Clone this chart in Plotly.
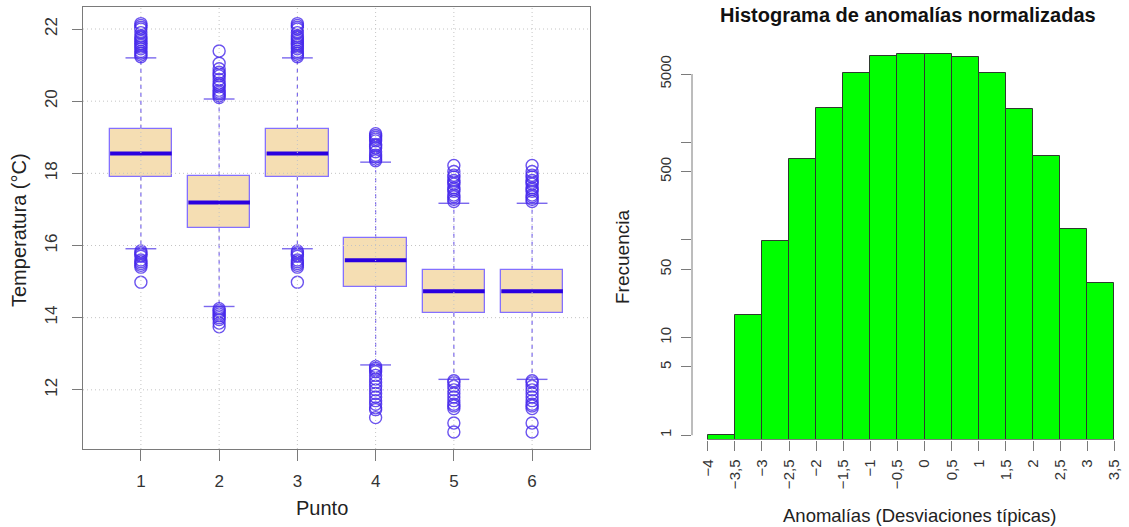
import plotly.graph_objects as go

# ---------------- Data: boxplot (left) ----------------
puntos = [1, 2, 3, 4, 5, 6]
q1 = [17.91, 16.49, 17.91, 14.86, 14.13, 14.13]
mediana = [18.55, 17.19, 18.55, 15.59, 14.73, 14.73]
q3 = [19.23, 17.94, 19.23, 16.20, 15.33, 15.33]
bigote_inf = [15.91, 14.31, 15.91, 12.69, 12.29, 12.29]
bigote_sup = [21.20, 20.06, 21.20, 18.31, 17.17, 17.17]
atipicos = [
    [21.23, 21.28, 21.33, 21.38, 21.45, 21.5, 21.55, 21.6, 21.65, 21.7, 21.75, 21.8, 21.9, 22.0, 22.05, 22.1, 22.15,
     15.85, 15.8, 15.75, 15.7, 15.6, 15.55, 15.5, 15.45, 15.4, 14.98],
    [20.1, 20.15, 20.2, 20.25, 20.3, 20.4, 20.45, 20.5, 20.6, 20.7, 20.75, 20.8, 20.9, 21.05, 21.39,
     14.25, 14.2, 14.15, 14.1, 14.05, 14.0, 13.95, 13.85, 13.75],
    [21.23, 21.28, 21.33, 21.38, 21.45, 21.5, 21.55, 21.6, 21.65, 21.7, 21.75, 21.8, 21.9, 22.0, 22.05, 22.1, 22.15,
     15.85, 15.8, 15.75, 15.7, 15.6, 15.55, 15.5, 15.45, 15.4, 14.98],
    [18.35, 18.4, 18.45, 18.5, 18.6, 18.7, 18.75, 18.8, 18.9, 18.95, 19.0, 19.05, 19.1,
     12.65, 12.6, 12.55, 12.5, 12.4, 12.3, 12.2, 12.1, 12.0, 11.9, 11.8, 11.7, 11.6, 11.5, 11.45, 11.23],
    [17.22, 17.28, 17.35, 17.4, 17.5, 17.55, 17.6, 17.7, 17.75, 17.8, 17.9, 17.95, 18.05, 18.22,
     12.25, 12.2, 12.1, 12.0, 11.9, 11.8, 11.7, 11.6, 11.55, 11.48, 11.08, 10.83],
    [17.22, 17.28, 17.35, 17.4, 17.5, 17.55, 17.6, 17.7, 17.75, 17.8, 17.9, 17.95, 18.05, 18.22,
     12.25, 12.2, 12.1, 12.0, 11.9, 11.8, 11.7, 11.6, 11.55, 11.48, 11.08, 10.83],
]
y_ticks_temp = [12, 14, 16, 18, 20, 22]

# ---------------- Data: histogram (right) ----------------
bordes = [-4, -3.5, -3, -2.5, -2, -1.5, -1, -0.5, 0, 0.5, 1, 1.5, 2, 2.5, 3, 3.5]
frecuencias = [1, 17, 97, 668, 2260, 5150, 7640, 8010, 8010, 7460, 5080, 2170, 727, 128, 36]
x_tick_vals = bordes
x_tick_text = ["\u22124", "\u22123,5", "\u22123", "\u22122,5", "\u22122", "\u22121,5", "\u22121", "\u22120,5",
               "0", "0,5", "1", "1,5", "2", "2,5", "3", "3,5"]
y_tick_vals = [1, 5, 10, 50, 100, 500, 1000, 5000]
y_tick_text = ["1", "5", "10", "50", "", "500", "", "5000"]

W, H = 1129, 527
FONT = "Liberation Sans, Arial, sans-serif"
AX = "#7a7a7a"

BOX_W = 0.8

fig = go.Figure()

# box bodies
fig.add_trace(go.Bar(
    x=puntos, base=q1, y=[b - a for a, b in zip(q1, q3)], width=BOX_W,
    marker=dict(color="#F5DEB3", line=dict(color="#8470FF", width=1.3)),
    xaxis="x", yaxis="y", showlegend=False, hoverinfo="skip"))

# whiskers (dashed)
wx, wy = [], []
for p, a, b, lo, hi in zip(puntos, q1, q3, bigote_inf, bigote_sup):
    wx += [p, p, None, p, p, None]
    wy += [b, hi, None, a, lo, None]
fig.add_trace(go.Scatter(x=wx, y=wy, mode="lines", line=dict(color="#7B68EE", width=1.2, dash="4px,4px"),
                         xaxis="x", yaxis="y", showlegend=False, hoverinfo="skip"))

# caps
fig.add_trace(go.Scatter(x=puntos + puntos, y=bigote_sup + bigote_inf, mode="markers",
                         marker=dict(symbol="line-ew", size=22, line=dict(color="#7B68EE", width=1.4)),
                         xaxis="x", yaxis="y", showlegend=False, hoverinfo="skip"))

# outliers
ox, oy = [], []
for p, vals in zip(puntos, atipicos):
    ox += [p] * len(vals)
    oy += vals
fig.add_trace(go.Scatter(x=ox, y=oy, mode="markers",
                         marker=dict(symbol="circle-open", size=12, color="rgba(70,40,235,0.8)",
                                     line=dict(width=1.4)),
                         xaxis="x", yaxis="y", showlegend=False, hoverinfo="skip", cliponaxis=False))

# medians
fig.add_trace(go.Scatter(x=puntos, y=mediana, mode="markers",
                         marker=dict(symbol="line-ew", size=44, line=dict(color="#2A00E0", width=4)),
                         xaxis="x", yaxis="y", showlegend=False, hoverinfo="skip"))

# histogram
centros = [(a + b) / 2 for a, b in zip(bordes[:-1], bordes[1:])]
anchos = [b - a for a, b in zip(bordes[:-1], bordes[1:])]
fig.add_trace(go.Bar(x=centros, y=frecuencias, width=anchos,
                     marker=dict(color="#00FF00", line=dict(color="#2f3a2f", width=1)),
                     xaxis="x2", yaxis="y2", showlegend=False, hoverinfo="skip"))

# dotted grid above everything (as in R's grid())
shapes = []
for p in puntos:
    shapes.append(dict(type="line", xref="x", yref="y domain", x0=p, x1=p, y0=0, y1=1,
                       line=dict(color="#c4c4c4", width=1, dash="1px,3px"), layer="above"))
for t in y_ticks_temp:
    shapes.append(dict(type="line", xref="x domain", yref="y", x0=0, x1=1, y0=t, y1=t,
                       line=dict(color="#c4c4c4", width=1, dash="1px,3px"), layer="above"))
# R-style axis lines for the histogram (spanning only first-to-last tick)
shapes.append(dict(type="line", xref="x2", yref="y2 domain", x0=bordes[0], x1=bordes[-1], y0=0, y1=0,
                   line=dict(color=AX, width=1), layer="above"))
shapes.append(dict(type="line", xref="x2 domain", yref="y2", x0=0, x1=0, y0=y_tick_vals[0], y1=y_tick_vals[-1],
                   line=dict(color=AX, width=1), layer="above"))

annotations = [
    dict(text="Punto", x=322 / W, y=1 - 508 / H, xref="paper", yref="paper", showarrow=False,
         font=dict(size=20, color="#222", family=FONT), xanchor="center", yanchor="middle"),
    dict(text="Temperatura (°C)", x=19 / W, y=1 - 230 / H, xref="paper", yref="paper", showarrow=False,
         textangle=-90, font=dict(size=20, color="#222", family=FONT), xanchor="center", yanchor="middle"),
    dict(text="<b>Histograma de anomalías normalizadas</b>", x=908 / W, y=1 - 15 / H, xref="paper", yref="paper",
         showarrow=False, font=dict(size=20, color="#111", family=FONT), xanchor="center", yanchor="middle"),
    dict(text="Frecuencia", x=622 / W, y=1 - 257 / H, xref="paper", yref="paper", showarrow=False,
         textangle=-90, font=dict(size=19, color="#222", family=FONT), xanchor="center", yanchor="middle"),
    dict(text="Anomalías (Desviaciones típicas)", x=920 / W, y=1 - 515 / H, xref="paper", yref="paper",
         showarrow=False, font=dict(size=18.5, color="#222", family=FONT), xanchor="center", yanchor="middle"),
]

fig.update_layout(
    width=W, height=H, margin=dict(l=0, r=0, t=0, b=0),
    paper_bgcolor="white", plot_bgcolor="white",
    font=dict(family=FONT, color="#333"),
    bargap=0, showlegend=False,
    shapes=shapes, annotations=annotations,
    xaxis=dict(domain=[83 / W, 590 / W], range=[0.26, 6.74], tickvals=puntos, ticktext=[str(p) for p in puntos],
               ticks="outside", ticklen=11, tickcolor=AX, showline=True, mirror=True, linecolor=AX, linewidth=1,
               showgrid=False, zeroline=False, tickfont=dict(size=17, color="#333"), ticklabelstandoff=6),
    yaxis=dict(domain=[1 - 449 / H, 1 - 7 / H], range=[10.36, 22.61], tickvals=y_ticks_temp,
               ticks="outside", ticklen=10, tickcolor=AX, showline=True, mirror=True, linecolor=AX, linewidth=1,
               showgrid=False, zeroline=False, tickangle=-90, tickfont=dict(size=17, color="#333"),
               ticklabelstandoff=8),
    xaxis2=dict(domain=[692 / W, 1.0], range=[-4.29, 3.77], anchor="y2", tickvals=x_tick_vals, ticktext=x_tick_text,
                ticks="outside", ticklen=10, tickcolor=AX, showline=False, showgrid=False, zeroline=False,
                tickangle=-90, tickfont=dict(size=15, color="#333"), ticklabelstandoff=3),
    yaxis2=dict(domain=[1 - 439.5 / H, 1 - 38 / H], type="log", range=[-0.044, 4.068], anchor="x2",
                tickvals=y_tick_vals, ticktext=y_tick_text, ticks="outside", ticklen=10, tickcolor=AX,
                showline=False, showgrid=False, zeroline=False, tickangle=-90,
                tickfont=dict(size=15, color="#333"), ticklabelstandoff=4),
)

fig.write_html("out.html", config={"displayModeBar": False},
               post_script="document.body.style.margin='0';document.body.style.overflow='hidden';")
